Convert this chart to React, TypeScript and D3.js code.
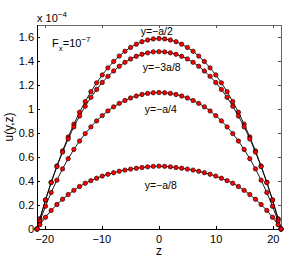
import React, { useRef, useEffect } from 'react';
import * as d3 from 'd3';

// z positions of the computed points
const zValues = [
  -21.35, -20.85, -19.86, -18.87, -17.87, -16.88, -15.89, -14.9, -13.9, -12.91, -11.92, -10.92,
  -9.93, -8.94, -7.94, -6.95, -5.96, -4.97, -3.97, -2.98, -1.99, -0.99, 0,
  0.99, 1.99, 2.98, 3.97, 4.97, 5.96, 6.95, 7.94, 8.94, 9.93,
  10.92, 11.92, 12.91, 13.9, 14.9, 15.89, 16.88, 17.87, 18.87, 19.86, 20.85, 21.35,
];

// u(y,z) in units of 1e-4
const uHalf = [
  0, 0.084, 0.242, 0.389, 0.525, 0.651, 0.767, 0.874, 0.973, 1.062, 1.144, 1.218,
  1.284, 1.343, 1.396, 1.441, 1.481, 1.513, 1.54, 1.561, 1.575, 1.584, 1.587,
  1.584, 1.575, 1.561, 1.54, 1.513, 1.481, 1.441, 1.396, 1.343, 1.284,
  1.218, 1.144, 1.062, 0.973, 0.874, 0.767, 0.651, 0.525, 0.389, 0.242, 0.084, 0,
];
const u3Eighth = [
  0, 0.084, 0.242, 0.387, 0.52, 0.641, 0.751, 0.851, 0.942, 1.023, 1.097, 1.163,
  1.221, 1.272, 1.317, 1.356, 1.389, 1.417, 1.439, 1.456, 1.468, 1.476, 1.478,
  1.476, 1.468, 1.456, 1.439, 1.417, 1.389, 1.356, 1.317, 1.272, 1.221,
  1.163, 1.097, 1.023, 0.942, 0.851, 0.751, 0.641, 0.52, 0.387, 0.242, 0.084, 0,
];
const uQuarter = [
  0, 0.066, 0.19, 0.304, 0.407, 0.501, 0.586, 0.663, 0.733, 0.795, 0.851, 0.901,
  0.945, 0.984, 1.018, 1.047, 1.071, 1.092, 1.108, 1.121, 1.13, 1.135, 1.137,
  1.135, 1.13, 1.121, 1.108, 1.092, 1.071, 1.047, 1.018, 0.984, 0.945,
  0.901, 0.851, 0.795, 0.733, 0.663, 0.586, 0.501, 0.407, 0.304, 0.19, 0.066, 0,
];
const uEighth = [
  0, 0.036, 0.098, 0.155, 0.204, 0.248, 0.287, 0.322, 0.354, 0.381, 0.403, 0.423,
  0.441, 0.456, 0.469, 0.481, 0.491, 0.499, 0.506, 0.512, 0.518, 0.522, 0.524,
  0.522, 0.518, 0.512, 0.506, 0.499, 0.491, 0.481, 0.469, 0.456, 0.441,
  0.423, 0.403, 0.381, 0.354, 0.322, 0.287, 0.248, 0.204, 0.155, 0.098, 0.036, 0,
];

const seriesNames = ['y=\u2212a/2', 'y=\u22123a/8', 'y=\u2212a/4', 'y=\u2212a/8'];
// label anchor (z, u) in data units
const labelZ = [-3.2, -2.85, -2.5, -2.5];
const labelU = [1.62, 1.315, 0.965, 0.333];

const xTicks = [-20, -10, 0, 10, 20];
const yTicks = [0, 0.2, 0.4, 0.6, 0.8, 1, 1.2, 1.4, 1.6];

const W = 307;
const H = 272;
const FONT = 'Liberation Sans, Arial, Helvetica, sans-serif';

const App: React.FC = () => {
  const svgRef = useRef<SVGSVGElement | null>(null);

  useEffect(() => {
    if (!svgRef.current) return;
    const svg = d3.select(svgRef.current);
    svg.selectAll('*').remove();

    const left = 37, right = 281, top = 25, bottom = 229;

    const x = d3.scaleLinear().domain([-21.35, 21.35]).range([left, right]);
    const y = d3.scaleLinear().domain([0, 1.7]).range([bottom, top]);

    svg.append('rect').attr('width', W).attr('height', H).attr('fill', '#fff');

    // box
    svg.append('line').attr('x1', left).attr('x2', right).attr('y1', top + 0.5).attr('y2', top + 0.5)
      .attr('stroke', '#666').attr('stroke-width', 1);
    svg.append('line').attr('x1', right + 0.5).attr('x2', right + 0.5).attr('y1', top).attr('y2', bottom)
      .attr('stroke', '#666').attr('stroke-width', 1);

    // ticks inside
    const tk = 3;
    xTicks.forEach(t => {
      const px = Math.round(x(t)) + 0.5;
      svg.append('line').attr('x1', px).attr('x2', px).attr('y1', top).attr('y2', top + tk).attr('stroke', '#555');
      svg.append('line').attr('x1', px).attr('x2', px).attr('y1', bottom).attr('y2', bottom - tk).attr('stroke', '#000');
      svg.append('text').attr('x', x(t)).attr('y', 243).attr('text-anchor', 'middle')
        .attr('font-family', FONT).attr('font-size', 11).attr('fill', '#000')
        .text(t < 0 ? `\u2212${-t}` : `${t}`);
    });
    yTicks.forEach(t => {
      const py = Math.round(y(t)) + 0.5;
      svg.append('line').attr('x1', left).attr('x2', left + tk).attr('y1', py).attr('y2', py).attr('stroke', '#000');
      svg.append('line').attr('x1', right).attr('x2', right - tk).attr('y1', py).attr('y2', py).attr('stroke', '#555');
      svg.append('text').attr('x', 34).attr('y', y(t) + 4).attr('text-anchor', 'end')
        .attr('font-family', FONT).attr('font-size', 11).attr('fill', '#000')
        .text(`${t}`);
    });

    svg.append('line').attr('x1', left + 0.5).attr('x2', left + 0.5).attr('y1', top).attr('y2', bottom + 0.5)
      .attr('stroke', '#000').attr('stroke-width', 1);
    svg.append('line').attr('x1', left).attr('x2', right + 1).attr('y1', bottom + 0.5).attr('y2', bottom + 0.5)
      .attr('stroke', '#000').attr('stroke-width', 1.2);

    // exponent
    const ex = svg.append('text').attr('x', 37).attr('y', 22)
      .attr('font-family', FONT).attr('font-size', 11).attr('fill', '#000');
    ex.append('tspan').text('x 10');
    ex.append('tspan').attr('dy', -5).attr('font-size', 8).text('\u22124');

    // axis labels
    svg.append('text').attr('x', x(0)).attr('y', 255).attr('text-anchor', 'middle')
      .attr('font-family', FONT).attr('font-size', 12).attr('fill', '#000').text('z');
    svg.append('text').attr('transform', `translate(13, ${(top + bottom) / 2}) rotate(-90)`)
      .attr('text-anchor', 'middle')
      .attr('font-family', FONT).attr('font-size', 12).attr('fill', '#000').text('u(y,z)');

    // F_x annotation
    const fx = svg.append('text').attr('x', 52).attr('y', 47)
      .attr('font-family', FONT).attr('font-size', 11).attr('fill', '#000');
    fx.append('tspan').text('F');
    fx.append('tspan').attr('dy', 4).attr('font-size', 8).text('x');
    fx.append('tspan').attr('dy', -4).text('=10');
    fx.append('tspan').attr('dy', -5).attr('font-size', 8).text('\u22127');

    const allSeries = [uHalf, u3Eighth, uQuarter, uEighth];

    const line = d3.line<number>()
      .x((_, i) => x(zValues[i]))
      .y(d => y(d))
      .curve(d3.curveLinear);

    allSeries.forEach((vals, si) => {
      svg.append('path')
        .datum(vals)
        .attr('fill', 'none')
        .attr('stroke', '#000')
        .attr('stroke-width', 0.9)
        .attr('d', line);

      svg.selectAll(`.pt-${si}`)
        .data(vals)
        .enter()
        .append('circle')
        .attr('class', `pt-${si}`)
        .attr('cx', (_, i) => x(zValues[i]))
        .attr('cy', d => y(d))
        .attr('r', 2.2)
        .attr('fill', '#ff0000')
        .attr('stroke', '#000')
        .attr('stroke-width', 0.6);

      svg.append('text')
        .attr('x', x(labelZ[si]))
        .attr('y', y(labelU[si]))
        .attr('font-family', FONT)
        .attr('font-size', 10.5)
        .attr('fill', '#000')
        .text(seriesNames[si]);
    });
  }, []);

  return (
    <svg
      ref={svgRef}
      width={W}
      height={H}
      style={{ position: 'absolute', left: 0, top: 0, display: 'block' }}
    />
  );
};

export default App;
